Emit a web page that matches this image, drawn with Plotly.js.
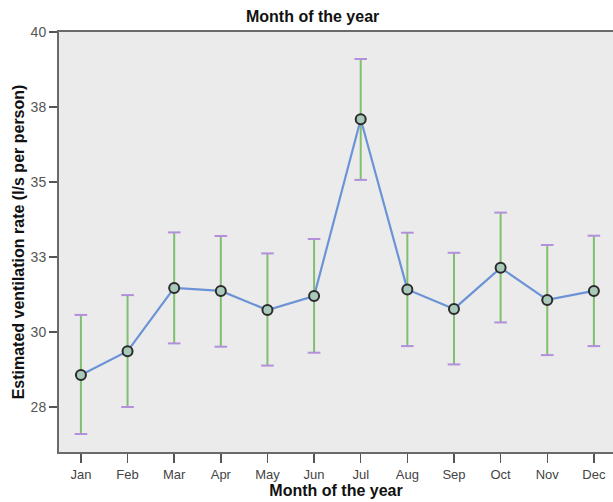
<!DOCTYPE html>
<html>
<head>
<meta charset="utf-8">
<script src="https://cdn.plot.ly/plotly-3.0.1.min.js"></script>
<style>html,body{margin:0;padding:0;background:#fff;}#chart{width:613px;height:502px;}</style>
</head>
<body>
<div id="chart"></div>
<script>
const months = ["Jan","Feb","Mar","Apr","May","Jun","Jul","Aug","Sep","Oct","Nov","Dec"];
const meanRate = [28.57, 29.36, 31.47, 31.37, 30.73, 31.2, 37.09, 31.42, 30.77, 32.14, 31.07, 31.37];
const upperCI = [30.57, 31.23, 33.32, 33.2, 32.62, 33.1, 39.1, 33.31, 32.64, 33.98, 32.9, 33.21];
const lowerCI = [26.6, 27.5, 29.62, 29.51, 28.88, 29.31, 35.07, 29.53, 28.92, 30.32, 29.23, 29.53];
const yTickVals = [27.5, 30, 32.5, 35, 37.5, 40];
const yTickText = ["28", "30", "33", "35", "38", "40"];

const idx = months.map((m, i) => i);
const plus = meanRate.map((v, i) => upperCI[i] - v);
const minus = meanRate.map((v, i) => v - lowerCI[i]);

const errTrace = {
  x: idx, y: meanRate, type: "scatter", mode: "markers",
  marker: {size: 1, color: "rgba(0,0,0,0)"},
  error_y: {type: "data", symmetric: false, array: plus, arrayminus: minus,
            color: "#7fbf6e", thickness: 2, width: 0},
  hoverinfo: "skip", showlegend: false
};
const capTrace = {
  x: idx.concat(idx), y: upperCI.concat(lowerCI), type: "scatter", mode: "markers",
  marker: {symbol: "line-ew", size: 9, line: {color: "#b38fdc", width: 2}},
  hoverinfo: "skip", showlegend: false
};
const lineTrace = {
  x: idx, y: meanRate, type: "scatter", mode: "lines+markers",
  line: {color: "#6b93d6", width: 2.2},
  marker: {symbol: "circle", size: 10, color: "#a9c9bb", line: {color: "#2b2b2b", width: 2}},
  showlegend: false
};

const layout = {
  width: 613, height: 502,
  margin: {l: 59, r: 0, t: 32, b: 50},
  paper_bgcolor: "#ffffff",
  plot_bgcolor: "#ebebeb",
  font: {family: "Liberation Sans, Arial, sans-serif", size: 13, color: "#333"},
  title: {text: "<b>Month of the year</b>", x: 0.51, xanchor: "center", y: 0.968, yanchor: "middle",
          font: {family: "Liberation Sans, Arial, sans-serif", size: 16, color: "#111"}},
  xaxis: {
    range: [-0.47, 11.41], tickvals: idx, ticktext: months,
    showgrid: false, zeroline: false,
    showline: true, linecolor: "#6a6a6a", linewidth: 2, mirror: true,
    ticks: "outside", ticklen: 9, tickcolor: "#555", tickwidth: 1.5,
    tickfont: {size: 13, color: "#444"},
    title: {text: "<b>Month of the year</b>", standoff: 0, font: {size: 16, color: "#111"}},
    automargin: false
  },
  yaxis: {
    range: [26, 40], tickvals: yTickVals, ticktext: yTickText,
    showgrid: false, zeroline: false,
    showline: true, linecolor: "#6a6a6a", linewidth: 2,
    ticks: "outside", ticklen: 8, tickcolor: "#555", tickwidth: 1.5,
    tickfont: {size: 14, color: "#555"},
    title: {text: "<b>Estimated ventilation rate (l/s per person)</b>", standoff: 2,
            font: {size: 16, color: "#111"}},
    automargin: false
  }
};

Plotly.newPlot("chart", [errTrace, capTrace, lineTrace], layout, {displayModeBar: false, staticPlot: true});
</script>
</body>
</html>
